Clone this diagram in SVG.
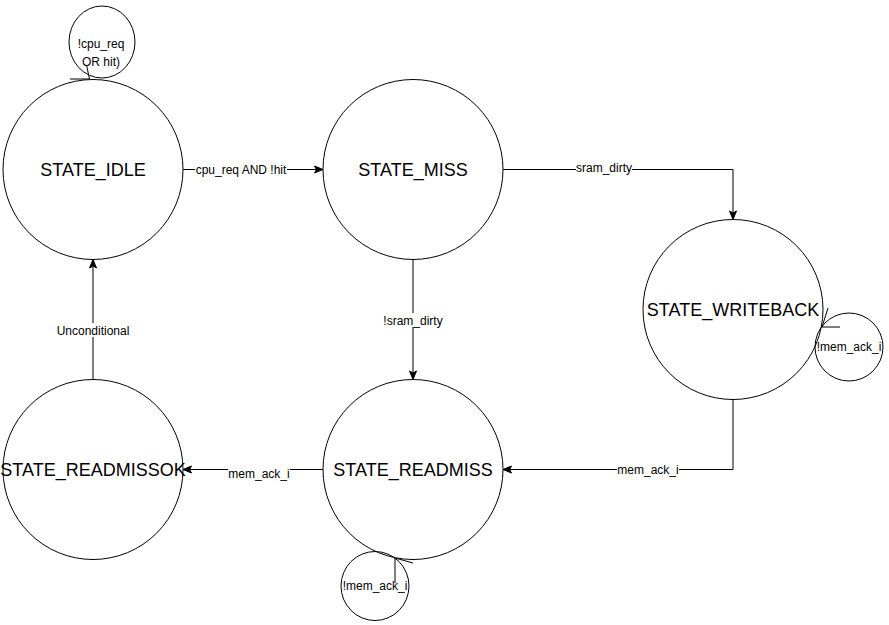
<svg xmlns="http://www.w3.org/2000/svg" width="889" height="625" viewBox="0 0 889 625">
<defs>
<marker id="arr" markerWidth="12" markerHeight="12" refX="10" refY="6" orient="auto" markerUnits="userSpaceOnUse">
<path d="M1.5,2.5 L10,6 L1.5,9.5 L3.5,6 Z" fill="#000" stroke="#000" stroke-width="1"/>
</marker>
</defs>
<style>
.st{fill:#fff;stroke:#000;stroke-width:1}
.big{font-family:"Liberation Sans",Arial,sans-serif;font-size:18px;text-anchor:middle;fill:#000}
.sm{font-family:"Liberation Sans",Arial,sans-serif;font-size:12px;text-anchor:middle;fill:#000}
.e{fill:none;stroke:#000;stroke-width:1}
.lb{fill:#fff;stroke:none}
</style>
<rect width="889" height="625" fill="#fff"/>
<g id="connectors">
<path class="e" d="M183,169.5 L323,169.5" marker-end="url(#arr)"/>
<path class="e" d="M503,169.5 L733,169.5 L733,219.5" marker-end="url(#arr)"/>
<path class="e" d="M413,259.5 L413,379.5" marker-end="url(#arr)"/>
<path class="e" d="M733,399.5 L733,469.5 L503,469.5" marker-end="url(#arr)"/>
<path class="e" d="M323,469.5 L183,469.5" marker-end="url(#arr)"/>
<path class="e" d="M93,379.5 L93,259.5" marker-end="url(#arr)"/>
<rect class="lb" x="195" y="162" width="92" height="15"/>
<text class="sm" x="241" y="173.5">cpu_req AND !hit</text>
<rect class="lb" x="576" y="161" width="56" height="14"/>
<text class="sm" x="604" y="172">sram_dirty</text>
<rect class="lb" x="383" y="313" width="60" height="14"/>
<text class="sm" x="413" y="324.5">!sram_dirty</text>
<rect class="lb" x="617" y="463" width="62" height="14"/>
<text class="sm" x="648" y="474">mem_ack_i</text>
<rect class="lb" x="228" y="467" width="62" height="14"/>
<text class="sm" x="259" y="478">mem_ack_i</text>
<rect class="lb" x="57" y="323" width="72" height="14"/>
<text class="sm" x="93" y="334.5">Unconditional</text>
<polyline class="e" points="86.5,65 89.5,79 70,79"/>
<polyline class="e" points="840,327 822,327 828,308"/>
<polyline class="e" points="395,583 395,558 413,563"/>
</g>
<g id="state_idle">
<circle class="st" cx="93" cy="169.5" r="90"/>
<text class="big" x="93" y="176">STATE_IDLE</text>
</g>
<g id="state_miss">
<circle class="st" cx="413" cy="169.5" r="90"/>
<text class="big" x="413" y="176">STATE_MISS</text>
</g>
<g id="state_writeback">
<circle class="st" cx="733" cy="309.5" r="90"/>
<text class="big" x="733" y="316">STATE_WRITEBACK</text>
</g>
<g id="state_readmiss">
<circle class="st" cx="413" cy="469.5" r="90"/>
<text class="big" x="413" y="476">STATE_READMISS</text>
</g>
<g id="state_readmissok">
<circle class="st" cx="93" cy="469.5" r="90"/>
<text class="big" x="93" y="476">STATE_READMISSOK</text>
</g>
<g id="loop_idle">
<ellipse class="e" cx="102" cy="42" rx="33" ry="36"/>
<text class="sm" x="101" y="48">!cpu_req</text>
<text class="sm" x="101" y="66">OR hit)</text>
</g>
<g id="loop_writeback">
<ellipse class="e" cx="849" cy="347" rx="34" ry="34"/>
<text class="sm" x="849" y="351">!mem_ack_i</text>
</g>
<g id="loop_readmiss">
<ellipse class="e" cx="375" cy="586" rx="34" ry="34.5"/>
<text class="sm" x="375" y="590">!mem_ack_i</text>
</g>
</svg>
